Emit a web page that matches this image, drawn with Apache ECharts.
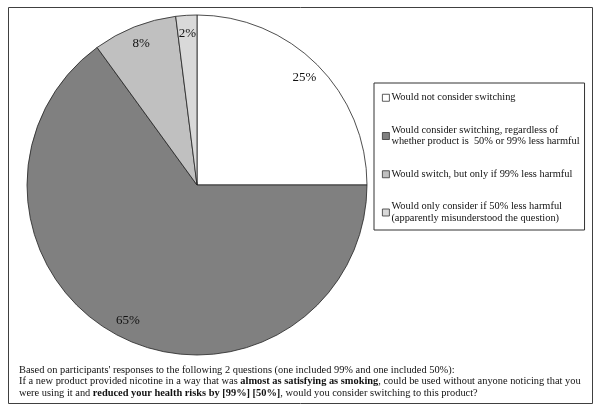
<!DOCTYPE html>
<html>
<head>
<meta charset="utf-8">
<script src="https://cdn.jsdelivr.net/npm/echarts@6/dist/echarts.min.js"></script>
<style>
  html, body { margin: 0; padding: 0; background: #fff; }
  #main { width: 600px; height: 409px; }
</style>
</head>
<body>
<div id="main"></div>
<script>
const categories = [
  'Would not consider switching',
  'Would consider switching, regardless of\nwhether product is  50% or 99% less harmful',
  'Would switch, but only if 99% less harmful',
  'Would only consider if 50% less harmful\n(apparently misunderstood the question)'
]
const values = [25, 65, 8, 2]
const colors = ['#ffffff', '#808080', '#c0c0c0', '#d9d9d9']

const font = 'Liberation Serif, Times New Roman, serif'

const chart = echarts.init(document.getElementById('main'))

const pieData = categories.map((name, i) => ({
  name: name,
  value: values[i],
  itemStyle: { color: colors[i] }
}))

const note =
  "{n|Based on participants' responses to the following 2 questions (one included 99% and one included 50%):}\n" +
  '{n|If a new product provided nicotine in a way that was }{b|almost as satisfying as smoking}{n|, could be used without anyone noticing that you}\n' +
  '{n|were using it and }{b|reduced your health risks by [99%] [50%]}{n|, would you consider switching to this product?}'

const option = {
  backgroundColor: '#fff',
  animation: false,
  title: {
    text: note,
    left: 14,
    top: 359,
    textStyle: {
      fontWeight: 'normal',
      rich: {
        n: { fontFamily: font, fontSize: 10.4, fontWeight: 'normal', color: '#111', lineHeight: 11.6 },
        b: { fontFamily: font, fontSize: 10.4, fontWeight: 'bold', color: '#111', lineHeight: 11.6 }
      }
    }
  },
  legend: {
    orient: 'vertical',
    left: 374,
    top: 83,
    padding: [9, 5, 6, 8],
    itemGap: 21,
    itemWidth: 7,
    itemHeight: 7,
    borderColor: '#333',
    borderWidth: 1,
    icon: 'rect',
    itemStyle: { borderColor: '#333', borderWidth: 0.8 },
    textStyle: { fontFamily: font, fontSize: 10.4, color: '#111', padding: [0, 0, 0, -3], lineHeight: 11.5 },
    data: categories
  },
  graphic: [{
    type: 'rect',
    shape: { x: 8.5, y: 7.5, width: 584, height: 396 },
    style: { fill: 'none', stroke: '#404040', lineWidth: 1 },
    silent: true
  }],
  series: [
    {
      type: 'pie',
      center: [197, 185],
      radius: [0, 170],
      data: pieData,
      label: { show: false },
      labelLine: { show: false },
      itemStyle: { borderColor: '#222', borderWidth: 0.8 },
      emphasis: { disabled: true }
    },
    {
      // transparent ring, only used to place the percent labels near the rim
      type: 'pie',
      center: [197, 185],
      radius: [128, 170],
      data: pieData.map(d => ({ name: d.name, value: d.value })),
      itemStyle: { color: 'rgba(0,0,0,0)', borderWidth: 0 },
      label: {
        show: true,
        position: 'inside',
        formatter: '{c}%',
        fontFamily: font,
        fontSize: 13,
        color: '#111'
      },
      labelLine: { show: false },
      silent: true,
      emphasis: { disabled: true }
    }
  ]
}

chart.setOption(option)
</script>
</body>
</html>
